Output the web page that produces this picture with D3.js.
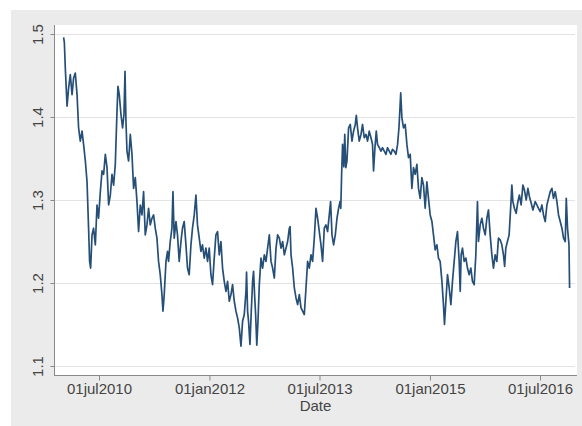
<!DOCTYPE html>
<html><head><meta charset="utf-8">
<script src="https://cdn.jsdelivr.net/npm/d3@7"></script>
<style>
html,body{margin:0;padding:0;background:#fff;}
svg{display:block;font-family:"Liberation Sans",Arial,sans-serif;}
</style></head>
<body>
<svg id="chart" width="582" height="426"></svg>
<script>
// decimal-year dates
const years = [
2010.014,2010.024,2010.037,2010.061,2010.082,2010.105,2010.129,2010.150,2010.173,2010.197,
2010.218,2010.241,2010.265,2010.286,2010.310,2010.333,2010.354,2010.368,2010.382,2010.401,
2010.422,2010.446,2010.469,2010.490,2010.514,2010.537,2010.559,2010.582,2010.605,2010.627,
2010.650,2010.673,2010.695,2010.718,2010.741,2010.754,2010.772,2010.795,2010.817,2010.836,
2010.850,2010.863,2010.877,2010.899,2010.922,2010.945,2010.967,2010.990,2011.013,2011.035,
2011.058,2011.081,2011.103,2011.126,2011.149,2011.171,2011.194,2011.217,2011.239,2011.262,
2011.285,2011.307,2011.330,2011.353,2011.367,2011.384,2011.408,2011.429,2011.443,2011.466,
2011.489,2011.503,2011.520,2011.544,2011.565,2011.588,2011.612,2011.633,2011.656,2011.680,
2011.701,2011.724,2011.748,2011.769,2011.793,2011.816,2011.837,2011.861,2011.884,2011.905,
2011.929,2011.952,2011.974,2011.997,2012.020,2012.042,2012.065,2012.088,2012.110,2012.133,
2012.156,2012.178,2012.201,2012.224,2012.246,2012.269,2012.292,2012.314,2012.337,2012.360,
2012.382,2012.405,2012.428,2012.450,2012.473,2012.496,2012.504,2012.518,2012.531,2012.550,
2012.568,2012.586,2012.599,2012.613,2012.627,2012.643,2012.659,2012.677,2012.700,2012.722,
2012.745,2012.768,2012.790,2012.813,2012.836,2012.858,2012.881,2012.904,2012.926,2012.949,
2012.972,2012.994,2013.017,2013.040,2013.062,2013.085,2013.095,2013.108,2013.130,2013.153,
2013.176,2013.198,2013.221,2013.244,2013.266,2013.289,2013.312,2013.334,2013.357,2013.380,
2013.402,2013.425,2013.448,2013.470,2013.493,2013.516,2013.538,2013.561,2013.584,2013.606,
2013.629,2013.647,2013.666,2013.688,2013.711,2013.734,2013.756,2013.775,2013.786,2013.797,
2013.810,2013.827,2013.840,2013.854,2013.870,2013.892,2013.915,2013.938,2013.960,2013.983,
2013.997,2014.014,2014.037,2014.061,2014.082,2014.105,2014.129,2014.150,2014.173,2014.197,
2014.218,2014.232,2014.251,2014.269,2014.286,2014.310,2014.333,2014.354,2014.378,2014.401,
2014.422,2014.446,2014.469,2014.490,2014.514,2014.537,2014.559,2014.578,2014.602,2014.618,
2014.640,2014.663,2014.686,2014.708,2014.731,2014.754,2014.776,2014.799,2014.822,2014.844,
2014.867,2014.890,2014.912,2014.935,2014.958,2014.980,2015.003,2015.027,2015.048,2015.071,
2015.095,2015.116,2015.139,2015.163,2015.184,2015.198,2015.217,2015.239,2015.262,2015.285,
2015.307,2015.330,2015.353,2015.375,2015.398,2015.412,2015.425,2015.443,2015.466,2015.489,
2015.511,2015.534,2015.557,2015.579,2015.602,2015.625,2015.647,2015.661,2015.684,2015.707,
2015.729,2015.752,2015.775,2015.797,2015.820,2015.843,2015.865,2015.888,2015.911,2015.933,
2015.956,2015.979,2016.001,2016.017,2016.033,2016.055,2016.078,2016.101,2016.115,2016.129,
2016.150,2016.173,2016.197,2016.218,2016.241,2016.265,2016.286,2016.310,2016.333,2016.354,
2016.378,2016.401,2016.432,2016.455,2016.477,2016.500,2016.523,2016.545,2016.568,2016.591,
2016.613,2016.636,2016.659,2016.681,2016.704,2016.727,2016.749,2016.772,2016.795,2016.817,
2016.840,2016.854,2016.871,2016.891,2016.899
];
const rates = [
1.496,1.490,1.459,1.413,1.435,1.451,1.427,1.447,1.453,1.427,
1.387,1.371,1.383,1.367,1.347,1.322,1.266,1.226,1.218,1.258,
1.266,1.246,1.294,1.278,1.310,1.335,1.331,1.355,1.339,1.294,
1.306,1.331,1.318,1.343,1.407,1.437,1.427,1.403,1.387,1.403,
1.455,1.395,1.359,1.347,1.379,1.355,1.314,1.327,1.298,1.262,
1.294,1.282,1.310,1.258,1.270,1.290,1.270,1.278,1.282,1.266,
1.254,1.226,1.210,1.186,1.166,1.186,1.226,1.238,1.226,1.250,
1.266,1.310,1.254,1.274,1.258,1.226,1.250,1.266,1.274,1.246,
1.218,1.210,1.246,1.266,1.282,1.306,1.270,1.254,1.238,1.246,
1.230,1.242,1.226,1.242,1.210,1.198,1.230,1.258,1.262,1.234,
1.250,1.218,1.202,1.190,1.202,1.178,1.186,1.198,1.178,1.166,
1.158,1.146,1.124,1.154,1.162,1.190,1.213,1.166,1.154,1.126,
1.166,1.202,1.214,1.186,1.162,1.125,1.154,1.198,1.230,1.218,
1.234,1.226,1.242,1.258,1.226,1.218,1.206,1.242,1.258,1.254,
1.242,1.250,1.234,1.242,1.250,1.266,1.268,1.234,1.218,1.194,
1.182,1.174,1.186,1.170,1.166,1.162,1.194,1.226,1.218,1.234,
1.226,1.254,1.290,1.278,1.262,1.246,1.226,1.266,1.270,1.262,
1.282,1.298,1.258,1.246,1.258,1.278,1.290,1.298,1.290,1.330,
1.367,1.340,1.379,1.339,1.347,1.387,1.391,1.371,1.383,1.391,
1.402,1.387,1.371,1.379,1.391,1.375,1.379,1.371,1.383,1.375,
1.367,1.335,1.363,1.383,1.367,1.363,1.359,1.363,1.359,1.355,
1.363,1.359,1.355,1.361,1.359,1.355,1.367,1.387,1.429,1.399,
1.387,1.391,1.367,1.351,1.355,1.314,1.339,1.331,1.343,1.314,
1.302,1.327,1.318,1.290,1.322,1.302,1.282,1.274,1.258,1.240,
1.246,1.230,1.226,1.202,1.174,1.150,1.178,1.210,1.194,1.174,
1.202,1.226,1.250,1.262,1.226,1.190,1.234,1.242,1.226,1.230,
1.218,1.210,1.218,1.202,1.198,1.234,1.298,1.250,1.270,1.278,
1.266,1.258,1.278,1.288,1.258,1.234,1.218,1.234,1.226,1.254,
1.252,1.246,1.234,1.220,1.242,1.250,1.258,1.294,1.318,1.298,
1.290,1.284,1.298,1.306,1.294,1.318,1.312,1.300,1.314,1.304,
1.296,1.288,1.298,1.294,1.290,1.286,1.294,1.282,1.274,1.294,
1.302,1.310,1.314,1.302,1.310,1.298,1.282,1.274,1.266,1.254,
1.250,1.302,1.266,1.246,1.194
];
const yTicks = [1.1, 1.2, 1.3, 1.4, 1.5];
const xTickDates = ["2010-07-01","2012-01-01","2013-07-01","2015-01-01","2016-07-01"];
const xTickLabels = ["01jul2010","01jan2012","01jul2013","01jan2015","01jul2016"];
const xTitle = "Date";

function yearToDate(t){
  const y = Math.floor(t), f = t - y;
  const a = Date.UTC(y,0,1), b = Date.UTC(y+1,0,1);
  return new Date(a + f*(b-a));
}
const data = years.map((t,i)=>({d:yearToDate(t), v:rates[i]}));
const tickDates = xTickDates.map(s=>new Date(s+"T00:00:00Z"));

const svg = d3.select("#chart");
const L=54, R=577, T=25, B=375;

svg.append("rect").attr("x",11).attr("y",10).attr("width",571).attr("height",416).attr("fill","#ebebeb");
svg.append("rect").attr("x",L).attr("y",T).attr("width",R-L).attr("height",B-T).attr("fill","#ffffff");

const x = d3.scaleUtc().domain([tickDates[0], tickDates[4]]).range([99,540]);
const y = d3.scaleLinear().domain([1.1,1.5]).range([366,34]);

// gridlines
svg.append("g").selectAll("line").data(yTicks).join("line")
  .attr("x1",L).attr("x2",R-2).attr("y1",d=>Math.round(y(d))+0.5).attr("y2",d=>Math.round(y(d))+0.5)
  .attr("stroke","#e3e3e3").attr("stroke-width",1);

// line
svg.append("path").datum(data)
  .attr("fill","none").attr("stroke","#264f78").attr("stroke-width",1.7)
  .attr("stroke-linejoin","round")
  .attr("d", d3.line().x(d=>x(d.d)).y(d=>y(d.v)));

// y axis
const yAxis = d3.axisLeft(y).tickValues(yTicks).tickSize(4).tickFormat(d3.format(".1f"));
const gy = svg.append("g").attr("transform",`translate(${L+0.5},0)`).call(yAxis);
gy.select(".domain").attr("d",`M-0,${T}V${B}`).attr("stroke","#8a8a8a");
gy.selectAll(".tick line").attr("stroke","#8a8a8a");
gy.selectAll(".tick text")
  .attr("font-size",15).attr("fill","#444")
  .attr("text-anchor","middle")
  .attr("transform","rotate(-90)").attr("x",0).attr("y",-12).attr("dy",0);

// x axis
const xAxis = d3.axisBottom(x).tickValues(tickDates).tickSize(5).tickFormat((d,i)=>xTickLabels[i]);
const gx = svg.append("g").attr("transform",`translate(0,${B+0.5})`).call(xAxis);
gx.select(".domain").attr("d",`M${L},0H${R}`).attr("stroke","#8a8a8a");
gx.selectAll(".tick line").attr("stroke","#8a8a8a");
gx.selectAll(".tick text").attr("font-size",15).attr("fill","#444").attr("y",8).attr("dy","0.71em");

svg.append("text").attr("x",(L+R)/2).attr("y",411).attr("text-anchor","middle")
  .attr("font-size",15).attr("fill","#444").text(xTitle);
</script>
</body></html>
